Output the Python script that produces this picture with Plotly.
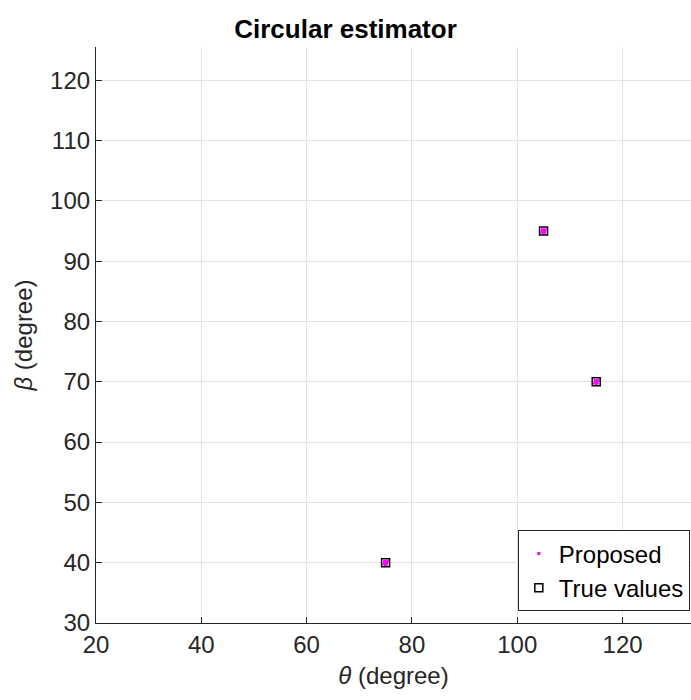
import plotly.graph_objects as go

# Data
true_theta = [75, 105, 115]
true_beta = [40, 95, 70]

prop_theta = [74.7, 75.0, 75.3, 74.8, 75.2, 75.0,
              104.7, 105.0, 105.3, 104.8, 105.2, 105.0,
              114.7, 115.0, 115.3, 114.8, 115.2, 115.0]
prop_beta = [39.8, 40.0, 40.2, 40.2, 39.8, 39.7,
             94.8, 95.0, 95.2, 95.2, 94.8, 94.7,
             69.8, 70.0, 70.2, 70.2, 69.8, 69.7]

x_ticks = [20, 40, 60, 80, 100, 120]
y_ticks = [30, 40, 50, 60, 70, 80, 90, 100, 110, 120]

font = "Liberation Sans, Arial, sans-serif"

fig = go.Figure()
fig.add_trace(go.Scatter(
    x=prop_theta, y=prop_beta, mode="markers", name="Proposed",
    marker=dict(symbol="square", size=3, color="#ff00ff", line=dict(width=0)),
))
fig.add_trace(go.Scatter(
    x=true_theta, y=true_beta, mode="markers", name="True values",
    marker=dict(symbol="square-open", size=8, color="black", line=dict(width=1.5, color="black")),
))

fig.update_layout(
    width=691, height=700,
    margin=dict(l=96, r=0, t=47, b=77),
    paper_bgcolor="white", plot_bgcolor="white",
    font=dict(family=font, size=24, color="#262626"),
    title=dict(text="<b>Circular estimator</b>", x=0.5, xanchor="center",
               y=1 - 29 / 700, yanchor="middle",
               font=dict(family=font, size=26, color="black")),
    xaxis=dict(range=[20, 133.0], tickvals=x_ticks, showgrid=True,
               gridcolor="#e3e3e3", gridwidth=1, zeroline=False,
               showline=True, linecolor="#262626", linewidth=1.2,
               ticks="inside", ticklen=6, tickcolor="#262626",
               title=dict(text="<i>θ</i> (degree)", standoff=10,
                          font=dict(family=font, size=24, color="#262626"))),
    yaxis=dict(range=[30, 125.5], tickvals=y_ticks, showgrid=True,
               gridcolor="#e3e3e3", gridwidth=1, zeroline=False,
               showline=True, linecolor="#262626", linewidth=1.2,
               ticks="inside", ticklen=6, tickcolor="#262626",
               title=dict(text="<i>β</i> (degree)", standoff=10,
                          font=dict(family=font, size=24, color="#262626"))),
    legend=dict(x=0.998, y=0.02, xanchor="right", yanchor="bottom",
                bgcolor="white", bordercolor="#262626", borderwidth=1,
                font=dict(family=font, size=24, color="black"),
                itemsizing="trace", tracegroupgap=0),
    showlegend=True,
)

fig.write_html("out.html")
